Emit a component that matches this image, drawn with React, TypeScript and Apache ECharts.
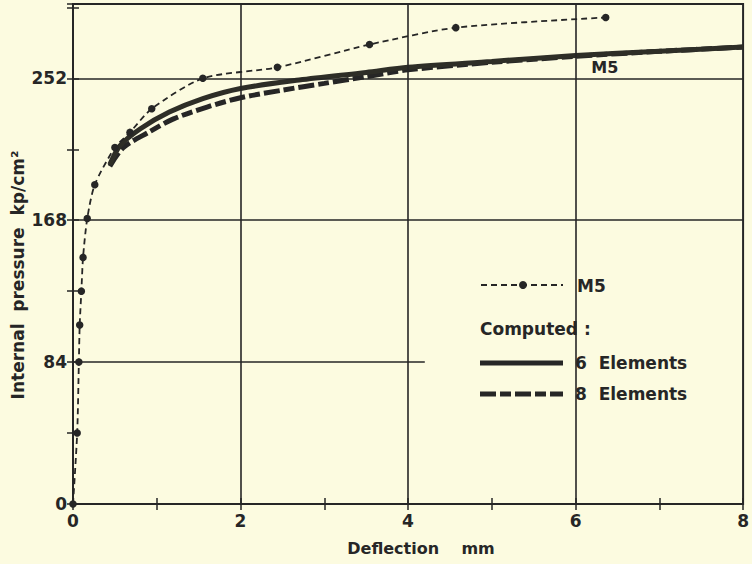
import React, { useEffect, useRef } from "react";
import * as echarts from "echarts";

// Measured M5 (deflection mm, pressure kp/cm²)
const m5X = [0, 0.05, 0.07, 0.08, 0.1, 0.12, 0.17, 0.26, 0.5, 0.68, 0.94, 1.55, 2.44, 3.54, 4.57, 6.36];
const m5Y = [0, 42, 84, 106, 126, 146, 169, 189, 211, 220, 234, 252, 258.5, 272, 282, 288];

// Computed, 6 elements
const sixX = [0.44, 0.56, 0.8, 1.15, 1.55, 2.0, 2.7, 3.5, 4.0, 5.0, 6.0, 7.0, 8.0];
const sixY = [201, 212, 222, 232, 240, 246, 251, 255.5, 258.5, 262, 265.5, 268, 270.5];

// Computed, 8 elements
const eightX = [0.44, 0.6, 0.9, 1.2, 1.6, 2.0, 2.5, 3.0, 3.5, 4.0, 5.0, 6.0, 7.0, 8.0];
const eightY = [200, 211, 220, 228, 235, 240.5, 245, 249, 253, 257, 261.5, 265, 268, 270.5];

const yTicks = [0, 84, 168, 252];
const xTicks = [0, 2, 4, 6, 8];
const xGrid = [2, 4, 6];

const INK = "#262626";
const BG = "#fcfbe0";
const FONT = "'DejaVu Sans', sans-serif";
const EIGHT_DASH = [16, 4, 11, 4];

const zip = (xs: number[], ys: number[]) => xs.map((x, i) => [x, ys[i]]);

export default function App() {
  const ref = useRef<HTMLDivElement>(null);
  useEffect(() => {
    if (!ref.current) return;
    const chart = echarts.init(ref.current, undefined, { renderer: "svg" });
    const tick = { show: true, inside: true, length: 6, lineStyle: { color: INK, width: 1.5 } };
    const labelStyle = { color: INK, fontFamily: FONT, fontWeight: "bold", fontSize: 17 };
    chart.setOption({
      animation: false,
      backgroundColor: BG,
      grid: { left: 73, right: 6, top: 4, bottom: 60, show: true, borderColor: INK, borderWidth: 2 },
      xAxis: [
        {
          type: "value",
          position: "bottom",
          min: 0,
          max: 8,
          interval: 1,
          axisLine: { show: true, lineStyle: { color: INK, width: 2 } },
          axisTick: tick,
          splitLine: { show: false },
          axisLabel: {
            ...labelStyle,
            margin: 8,
            formatter: (v: number) => (xTicks.includes(v) ? String(v) : ""),
          },
        },
        {
          type: "value",
          position: "top",
          min: 0,
          max: 8,
          interval: 1,
          axisLine: { show: false },
          axisTick: tick,
          splitLine: { show: false },
          axisLabel: { show: false },
        },
      ],
      yAxis: [
        {
          type: "value",
          position: "left",
          min: 0,
          max: 296,
          interval: 42,
          axisLine: { show: true, lineStyle: { color: INK, width: 2 } },
          axisTick: tick,
          splitLine: { show: false },
          axisLabel: {
            ...labelStyle,
            margin: 6,
            formatter: (v: number) => (yTicks.includes(v) ? String(v) : ""),
          },
        },
        {
          type: "value",
          position: "right",
          min: 0,
          max: 296,
          interval: 42,
          axisLine: { show: false },
          axisTick: tick,
          splitLine: { show: false },
          axisLabel: { show: false },
        },
      ],
      series: [
        {
          name: "grid",
          type: "line",
          data: [],
          markLine: {
            silent: true,
            symbol: "none",
            label: { show: false },
            lineStyle: { color: INK, width: 1.6, type: "solid" },
            data: [
              [{ coord: [0, 84] }, { coord: [4.2, 84] }],
              [{ coord: [0, 168] }, { coord: [8, 168] }],
              [{ coord: [0, 252] }, { coord: [8, 252] }],
              ...xGrid.map((x) => [{ coord: [x, 0] }, { coord: [x, 296] }]),
            ],
          },
        },
        {
          name: "8 Elements",
          type: "line",
          data: zip(eightX, eightY),
          smooth: 0.3,
          showSymbol: false,
          lineStyle: { color: INK, width: 5, type: EIGHT_DASH },
        },
        {
          name: "6 Elements",
          type: "line",
          data: zip(sixX, sixY),
          smooth: 0.3,
          showSymbol: false,
          lineStyle: { color: "#2e2e27", width: 5 },
          markPoint: {
            symbol: "circle",
            symbolSize: 0,
            data: [{ coord: [6.35, 258.5] }],
            label: { show: true, formatter: "M5", ...labelStyle, fontSize: 16 },
          },
        },
        {
          name: "M5",
          type: "line",
          data: zip(m5X, m5Y),
          smooth: 0.25,
          symbol: "circle",
          symbolSize: 7.5,
          itemStyle: { color: INK },
          lineStyle: { color: INK, width: 1.8, type: [6, 4] },
        },
      ],
      graphic: [
        {
          type: "text",
          x: 421,
          y: 548,
          style: { text: "Deflection    mm", fill: INK, font: `bold 16px ${FONT}`, align: "center", verticalAlign: "middle" },
        },
        {
          type: "text",
          x: 18,
          y: 275,
          rotation: Math.PI / 2,
          style: { text: "Internal  pressure  kp/cm²", fill: INK, font: `bold 17px ${FONT}`, align: "center", verticalAlign: "middle" },
        },
        { type: "line", shape: { x1: 481, y1: 285, x2: 563, y2: 285 }, style: { stroke: INK, lineWidth: 1.8, lineDash: [6, 4] } },
        { type: "circle", shape: { cx: 523, cy: 285, r: 4 }, style: { fill: INK } },
        { type: "text", x: 577, y: 286, style: { text: "M5", fill: INK, font: `bold 17px ${FONT}`, verticalAlign: "middle" } },
        { type: "text", x: 480, y: 329, style: { text: "Computed :", fill: INK, font: `bold 17px ${FONT}`, verticalAlign: "middle" } },
        { type: "line", shape: { x1: 480, y1: 363, x2: 563, y2: 363 }, style: { stroke: INK, lineWidth: 5 } },
        { type: "text", x: 575, y: 363, style: { text: "6  Elements", fill: INK, font: `bold 17px ${FONT}`, verticalAlign: "middle" } },
        { type: "line", shape: { x1: 480, y1: 394, x2: 563, y2: 394 }, style: { stroke: INK, lineWidth: 5, lineDash: EIGHT_DASH } },
        { type: "text", x: 575, y: 394, style: { text: "8  Elements", fill: INK, font: `bold 17px ${FONT}`, verticalAlign: "middle" } },
      ],
    });
    return () => chart.dispose();
  }, []);
  return (
    <div
      ref={ref}
      style={{ position: "fixed", left: 0, top: 0, width: 752, height: 564, background: BG }}
    />
  );
}
